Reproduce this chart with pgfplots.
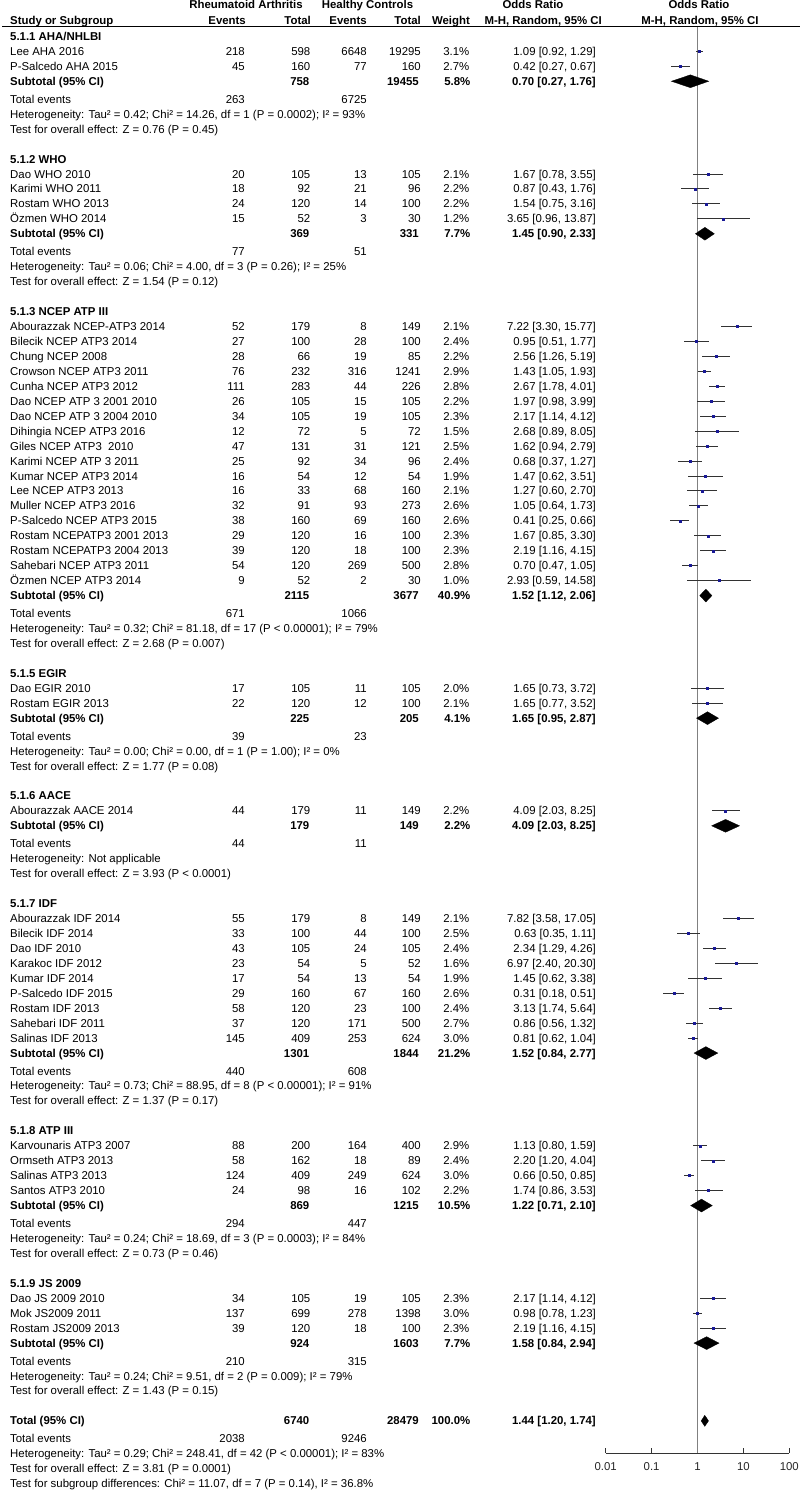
\documentclass[border=0pt]{standalone}
\usepackage{fontspec}
\setmainfont{Liberation Sans}
\usepackage{pgfplots}
\pgfplotsset{compat=1.18}
\usepackage{pgfplotstable}
\definecolor{sqblue}{RGB}{25,25,150}
\definecolor{refline}{RGB}{128,128,128}
\definecolor{cigray}{RGB}{50,50,50}

\newcommand\fs{\fontsize{11.4}{13}\selectfont}
\tikzset{
  lab/.style={anchor=base west, yshift=-4pt},
  num/.style={anchor=base east, yshift=-4pt},
  mid/.style={anchor=base, yshift=-4pt},
}
% u = row position (one unit = one table row)
\newcommand\study[8]{%
  \node[lab] at (10,#1) {#2};
  \node[num] at (245,#1) {#3};
  \node[num] at (310.5,#1) {#4};
  \node[num] at (367,#1) {#5};
  \node[num] at (421,#1) {#6};
  \node[num] at (469.5,#1) {#7\%};
  \node[num] at (596,#1) {#8};}
\newcommand\subt[6]{%
  \node[lab,font=\fs\bfseries] at (10,#1) {#2};
  \node[num,font=\fs\bfseries] at (309.5,#1) {#3};
  \node[num,font=\fs\bfseries] at (419,#1) {#4};
  \node[num,font=\fs\bfseries] at (470.5,#1) {#5};
  \node[num,font=\fs\bfseries] at (596,#1) {#6};}
\newcommand\tev[3]{%
  \node[lab] at (10,#1) {Total events};
  \node[num] at (245,#1) {#2};
  \node[num] at (367,#1) {#3};}
\newcommand\txt[2]{\node[lab] at (10,#1) {#2};}
\newcommand\hdr[2]{\node[lab,font=\fs\bfseries] at (10,#1) {#2};}

% study estimates: row, OR, lower, upper
\pgfplotstableread{
u est lo hi
1 1.09 0.92 1.29
2 0.42 0.27 0.67
9.2 1.67 0.78 3.55
10.2 0.87 0.43 1.76
11.2 1.54 0.75 3.16
12.2 3.65 0.96 13.87
19.4 7.22 3.30 15.77
20.4 0.95 0.51 1.77
21.4 2.56 1.26 5.19
22.4 1.43 1.05 1.93
23.4 2.67 1.78 4.01
24.4 1.97 0.98 3.99
25.4 2.17 1.14 4.12
26.4 2.68 0.89 8.05
27.4 1.62 0.94 2.79
28.4 0.68 0.37 1.27
29.4 1.47 0.62 3.51
30.4 1.27 0.60 2.70
31.4 1.05 0.64 1.73
32.4 0.41 0.25 0.66
33.4 1.67 0.85 3.30
34.4 2.19 1.16 4.15
35.4 0.70 0.47 1.05
36.4 2.93 0.59 14.58
43.6 1.65 0.73 3.72
44.6 1.65 0.77 3.52
51.8 4.09 2.03 8.25
59 7.82 3.58 17.05
60 0.63 0.35 1.11
61 2.34 1.29 4.26
62 6.97 2.40 20.30
63 1.45 0.62 3.38
64 0.31 0.18 0.51
65 3.13 1.74 5.64
66 0.86 0.56 1.32
67 0.81 0.62 1.04
74.2 1.13 0.80 1.59
75.2 2.20 1.20 4.04
76.2 0.66 0.50 0.85
77.2 1.74 0.86 3.53
84.4 2.17 1.14 4.12
85.4 0.98 0.78 1.23
86.4 2.19 1.16 4.15
}\studies

\begin{document}
\begin{tikzpicture}[every node/.style={font=\fs, inner sep=0pt}]
\useasboundingbox (0,0) rectangle (800pt,1493pt);

\begin{axis}[
  at={(605.7pt,40pt)}, anchor=south west,
  scale only axis, width=183.6pt, height=1426.23pt,
  xmode=log, xmin=0.01, xmax=100, ymin=-94.75, ymax=0.65,
  axis x line*=bottom, axis y line=none,
  xtick={0.01,0.1,1,10,100}, xticklabels={0.01,0.1,1,10,100},
  xminorticks=false,
  xtick align=inside, major tick length=5pt,
  x axis line style={draw=black!80, line width=0.8pt},
  xtick style={draw=black!80, line width=0.8pt},
  xticklabel style={font=\fs, text=black!85, yshift=-9pt},
  clip=false,
]
\addplot[refline, line width=1.4pt] coordinates {(1,0.65) (1,-94.75)};

\addplot[only marks, mark=square*, mark size=1pt,
  mark options={fill=sqblue, draw=sqblue},
  error bars/.cd, x dir=both, x explicit, error mark=none,
  error bar style={draw=cigray, line width=0.9pt}]
  table[x=est, y expr=-\thisrow{u},
        x error plus expr=\thisrow{hi}-\thisrow{est},
        x error minus expr=\thisrow{est}-\thisrow{lo}] {\studies};

% subtotal and total diamonds
\addplot[fill=black, draw=black, line width=0.3pt] coordinates {(0.27,-3) (0.70,-2.57) (1.76,-3) (0.70,-3.43)} -- cycle;
\addplot[fill=black, draw=black, line width=0.3pt] coordinates {(0.90,-13.2) (1.45,-12.77) (2.33,-13.2) (1.45,-13.63)} -- cycle;
\addplot[fill=black, draw=black, line width=0.3pt] coordinates {(1.12,-37.4) (1.52,-36.97) (2.06,-37.4) (1.52,-37.83)} -- cycle;
\addplot[fill=black, draw=black, line width=0.3pt] coordinates {(0.95,-45.6) (1.65,-45.17) (2.87,-45.6) (1.65,-46.03)} -- cycle;
\addplot[fill=black, draw=black, line width=0.3pt] coordinates {(2.03,-52.8) (4.09,-52.37) (8.25,-52.8) (4.09,-53.23)} -- cycle;
\addplot[fill=black, draw=black, line width=0.3pt] coordinates {(0.84,-68) (1.52,-67.57) (2.77,-68) (1.52,-68.43)} -- cycle;
\addplot[fill=black, draw=black, line width=0.3pt] coordinates {(0.71,-78.2) (1.22,-77.77) (2.10,-78.2) (1.22,-78.63)} -- cycle;
\addplot[fill=black, draw=black, line width=0.3pt] coordinates {(0.84,-87.4) (1.58,-86.97) (2.94,-87.4) (1.58,-87.83)} -- cycle;
\addplot[fill=black, draw=black, line width=0.3pt] coordinates {(1.20,-92.6) (1.44,-92.23) (1.74,-92.6) (1.44,-92.97)} -- cycle;
\end{axis}

\begin{scope}[x=1pt, y=-14.95pt, shift={(0pt,1456.5pt)}]
% column headers
\node[mid,font=\fs\bfseries] at (246,-2.11) {Rheumatoid Arthritis};
\node[mid,font=\fs\bfseries] at (367.5,-2.11) {Healthy Controls};
\node[mid,font=\fs\bfseries] at (533,-2.11) {Odds Ratio};
\node[mid,font=\fs\bfseries] at (699,-2.11) {Odds Ratio};
\node[lab,font=\fs\bfseries] at (10,-1.1) {Study or Subgroup};
\node[num,font=\fs\bfseries] at (246,-1.1) {Events};
\node[num,font=\fs\bfseries] at (311,-1.1) {Total};
\node[num,font=\fs\bfseries] at (367,-1.1) {Events};
\node[num,font=\fs\bfseries] at (421,-1.1) {Total};
\node[num,font=\fs\bfseries] at (470,-1.1) {Weight};
\node[num,font=\fs\bfseries] at (602,-1.1) {M-H, Random, 95\% CI};
\node[mid,font=\fs\bfseries] at (700,-1.1) {M-H, Random, 95\% CI};
\draw[line width=1.2pt] (2,-0.65) -- (800,-0.65);

\hdr{0}{5.1.1 AHA/NHLBI}
\study{1}{Lee AHA 2016}{218}{598}{6648}{19295}{3.1}{1.09 [0.92, 1.29]}
\study{2}{P-Salcedo AHA 2015}{45}{160}{77}{160}{2.7}{0.42 [0.27, 0.67]}
\subt{3}{Subtotal (95\% CI)}{758}{19455}{5.8\%}{0.70 [0.27, 1.76]}
\tev{4.2}{263}{6725}
\txt{5.2}{Heterogeneity: Tau² = 0.42; Chi² = 14.26, df = 1 (P = 0.0002); I² = 93\%}
\txt{6.2}{Test for overall effect: Z = 0.76 (P = 0.45)}

\hdr{8.2}{5.1.2 WHO}
\study{9.2}{Dao WHO 2010}{20}{105}{13}{105}{2.1}{1.67 [0.78, 3.55]}
\study{10.2}{Karimi WHO 2011}{18}{92}{21}{96}{2.2}{0.87 [0.43, 1.76]}
\study{11.2}{Rostam WHO 2013}{24}{120}{14}{100}{2.2}{1.54 [0.75, 3.16]}
\study{12.2}{Özmen WHO 2014}{15}{52}{3}{30}{1.2}{3.65 [0.96, 13.87]}
\subt{13.2}{Subtotal (95\% CI)}{369}{331}{7.7\%}{1.45 [0.90, 2.33]}
\tev{14.4}{77}{51}
\txt{15.4}{Heterogeneity: Tau² = 0.06; Chi² = 4.00, df = 3 (P = 0.26); I² = 25\%}
\txt{16.4}{Test for overall effect: Z = 1.54 (P = 0.12)}

\hdr{18.4}{5.1.3 NCEP ATP III}
\study{19.4}{Abourazzak NCEP-ATP3 2014}{52}{179}{8}{149}{2.1}{7.22 [3.30, 15.77]}
\study{20.4}{Bilecik NCEP ATP3 2014}{27}{100}{28}{100}{2.4}{0.95 [0.51, 1.77]}
\study{21.4}{Chung NCEP 2008}{28}{66}{19}{85}{2.2}{2.56 [1.26, 5.19]}
\study{22.4}{Crowson NCEP ATP3 2011}{76}{232}{316}{1241}{2.9}{1.43 [1.05, 1.93]}
\study{23.4}{Cunha NCEP ATP3 2012}{111}{283}{44}{226}{2.8}{2.67 [1.78, 4.01]}
\study{24.4}{Dao NCEP ATP 3 2001 2010}{26}{105}{15}{105}{2.2}{1.97 [0.98, 3.99]}
\study{25.4}{Dao NCEP ATP 3 2004 2010}{34}{105}{19}{105}{2.3}{2.17 [1.14, 4.12]}
\study{26.4}{Dihingia NCEP ATP3 2016}{12}{72}{5}{72}{1.5}{2.68 [0.89, 8.05]}
\study{27.4}{Giles NCEP ATP3 \ 2010}{47}{131}{31}{121}{2.5}{1.62 [0.94, 2.79]}
\study{28.4}{Karimi NCEP ATP 3 2011}{25}{92}{34}{96}{2.4}{0.68 [0.37, 1.27]}
\study{29.4}{Kumar NCEP ATP3 2014}{16}{54}{12}{54}{1.9}{1.47 [0.62, 3.51]}
\study{30.4}{Lee NCEP ATP3 2013}{16}{33}{68}{160}{2.1}{1.27 [0.60, 2.70]}
\study{31.4}{Muller NCEP ATP3 2016}{32}{91}{93}{273}{2.6}{1.05 [0.64, 1.73]}
\study{32.4}{P-Salcedo NCEP ATP3 2015}{38}{160}{69}{160}{2.6}{0.41 [0.25, 0.66]}
\study{33.4}{Rostam NCEPATP3 2001 2013}{29}{120}{16}{100}{2.3}{1.67 [0.85, 3.30]}
\study{34.4}{Rostam NCEPATP3 2004 2013}{39}{120}{18}{100}{2.3}{2.19 [1.16, 4.15]}
\study{35.4}{Sahebari NCEP ATP3 2011}{54}{120}{269}{500}{2.8}{0.70 [0.47, 1.05]}
\study{36.4}{Özmen NCEP ATP3 2014}{9}{52}{2}{30}{1.0}{2.93 [0.59, 14.58]}
\subt{37.4}{Subtotal (95\% CI)}{2115}{3677}{40.9\%}{1.52 [1.12, 2.06]}
\tev{38.6}{671}{1066}
\txt{39.6}{Heterogeneity: Tau² = 0.32; Chi² = 81.18, df = 17 (P < 0.00001); I² = 79\%}
\txt{40.6}{Test for overall effect: Z = 2.68 (P = 0.007)}

\hdr{42.6}{5.1.5 EGIR}
\study{43.6}{Dao EGIR 2010}{17}{105}{11}{105}{2.0}{1.65 [0.73, 3.72]}
\study{44.6}{Rostam EGIR 2013}{22}{120}{12}{100}{2.1}{1.65 [0.77, 3.52]}
\subt{45.6}{Subtotal (95\% CI)}{225}{205}{4.1\%}{1.65 [0.95, 2.87]}
\tev{46.8}{39}{23}
\txt{47.8}{Heterogeneity: Tau² = 0.00; Chi² = 0.00, df = 1 (P = 1.00); I² = 0\%}
\txt{48.8}{Test for overall effect: Z = 1.77 (P = 0.08)}

\hdr{50.8}{5.1.6 AACE}
\study{51.8}{Abourazzak AACE 2014}{44}{179}{11}{149}{2.2}{4.09 [2.03, 8.25]}
\subt{52.8}{Subtotal (95\% CI)}{179}{149}{2.2\%}{4.09 [2.03, 8.25]}
\tev{54}{44}{11}
\txt{55}{Heterogeneity: Not applicable}
\txt{56}{Test for overall effect: Z = 3.93 (P < 0.0001)}

\hdr{58}{5.1.7 IDF}
\study{59}{Abourazzak IDF 2014}{55}{179}{8}{149}{2.1}{7.82 [3.58, 17.05]}
\study{60}{Bilecik IDF 2014}{33}{100}{44}{100}{2.5}{0.63 [0.35, 1.11]}
\study{61}{Dao IDF 2010}{43}{105}{24}{105}{2.4}{2.34 [1.29, 4.26]}
\study{62}{Karakoc IDF 2012}{23}{54}{5}{52}{1.6}{6.97 [2.40, 20.30]}
\study{63}{Kumar IDF 2014}{17}{54}{13}{54}{1.9}{1.45 [0.62, 3.38]}
\study{64}{P-Salcedo IDF 2015}{29}{160}{67}{160}{2.6}{0.31 [0.18, 0.51]}
\study{65}{Rostam IDF 2013}{58}{120}{23}{100}{2.4}{3.13 [1.74, 5.64]}
\study{66}{Sahebari IDF 2011}{37}{120}{171}{500}{2.7}{0.86 [0.56, 1.32]}
\study{67}{Salinas IDF 2013}{145}{409}{253}{624}{3.0}{0.81 [0.62, 1.04]}
\subt{68}{Subtotal (95\% CI)}{1301}{1844}{21.2\%}{1.52 [0.84, 2.77]}
\tev{69.2}{440}{608}
\txt{70.2}{Heterogeneity: Tau² = 0.73; Chi² = 88.95, df = 8 (P < 0.00001); I² = 91\%}
\txt{71.2}{Test for overall effect: Z = 1.37 (P = 0.17)}

\hdr{73.2}{5.1.8 ATP III}
\study{74.2}{Karvounaris ATP3 2007}{88}{200}{164}{400}{2.9}{1.13 [0.80, 1.59]}
\study{75.2}{Ormseth ATP3 2013}{58}{162}{18}{89}{2.4}{2.20 [1.20, 4.04]}
\study{76.2}{Salinas ATP3 2013}{124}{409}{249}{624}{3.0}{0.66 [0.50, 0.85]}
\study{77.2}{Santos ATP3 2010}{24}{98}{16}{102}{2.2}{1.74 [0.86, 3.53]}
\subt{78.2}{Subtotal (95\% CI)}{869}{1215}{10.5\%}{1.22 [0.71, 2.10]}
\tev{79.4}{294}{447}
\txt{80.4}{Heterogeneity: Tau² = 0.24; Chi² = 18.69, df = 3 (P = 0.0003); I² = 84\%}
\txt{81.4}{Test for overall effect: Z = 0.73 (P = 0.46)}

\hdr{83.4}{5.1.9 JS 2009}
\study{84.4}{Dao JS 2009 2010}{34}{105}{19}{105}{2.3}{2.17 [1.14, 4.12]}
\study{85.4}{Mok JS2009 2011}{137}{699}{278}{1398}{3.0}{0.98 [0.78, 1.23]}
\study{86.4}{Rostam JS2009 2013}{39}{120}{18}{100}{2.3}{2.19 [1.16, 4.15]}
\subt{87.4}{Subtotal (95\% CI)}{924}{1603}{7.7\%}{1.58 [0.84, 2.94]}
\tev{88.6}{210}{315}
\txt{89.6}{Heterogeneity: Tau² = 0.24; Chi² = 9.51, df = 2 (P = 0.009); I² = 79\%}
\txt{90.6}{Test for overall effect: Z = 1.43 (P = 0.15)}

\subt{92.6}{Total (95\% CI)}{6740}{28479}{100.0\%}{1.44 [1.20, 1.74]}
\tev{93.8}{2038}{9246}
\txt{94.8}{Heterogeneity: Tau² = 0.29; Chi² = 248.41, df = 42 (P < 0.00001); I² = 83\%}
\txt{95.8}{Test for overall effect: Z = 3.81 (P = 0.0001)}
\txt{96.8}{Test for subgroup differences: Chi² = 11.07, df = 7 (P = 0.14), I² = 36.8\%}
\end{scope}
\end{tikzpicture}
\end{document}
